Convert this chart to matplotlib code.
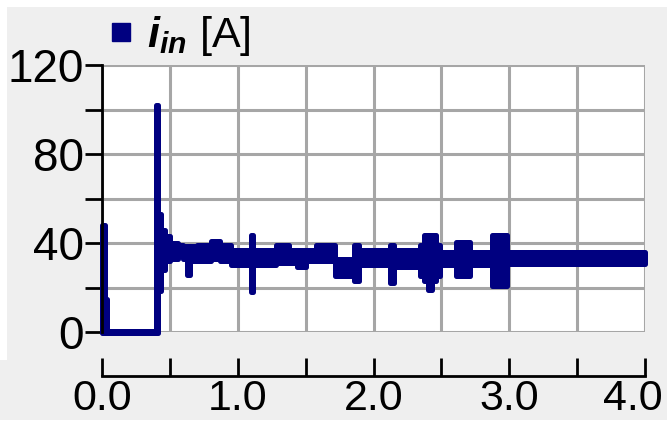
import matplotlib
matplotlib.use("Agg")
import matplotlib.pyplot as plt
from matplotlib.lines import Line2D
from matplotlib.patches import Rectangle
from matplotlib.ticker import MultipleLocator, FixedLocator, FixedFormatter
import matplotlib.transforms as mtransforms

plt.rcParams['font.family'] = ['Liberation Sans', 'DejaVu Sans']
plt.rcParams['mathtext.fontset'] = 'custom'
plt.rcParams['mathtext.bf'] = 'Liberation Sans:bold:italic'
plt.rcParams['mathtext.rm'] = 'Liberation Sans'

# ---- data: envelope (segment start time in s, low/high current in A) ----
t_pts = [0.000, 0.020, 0.040, 0.400, 0.412, 0.435, 0.465, 0.500, 0.560, 0.600,
         0.625, 0.645, 0.700, 0.800, 0.870, 0.950, 1.095, 1.115, 1.280, 1.380,
         1.440, 1.500, 1.580, 1.720, 1.860, 1.890, 2.120, 2.150, 2.340, 2.370,
         2.400, 2.430, 2.460, 2.490, 2.610, 2.710, 2.870, 2.980, 4.000]
i_low = [-0.6, -0.6, -0.6, -0.6, 18.5, 28, 32, 33, 34, 33,
         25.5, 32, 32, 33, 32, 30, 18, 30, 31, 31,
         29, 32, 32, 25, 23, 30, 22, 29, 25, 23,
         19, 23, 25, 30, 25, 30, 20.5, 30.5, 30.5]
i_high = [48, 15, 0.6, 102, 53, 46, 43, 40, 39, 38.5,
          38.5, 38.5, 39, 41, 39, 37, 43.5, 37, 39, 37,
          37, 37, 39, 33, 39, 37, 39, 37, 39, 43.5,
          43.5, 43.5, 39, 36, 40.5, 36, 43.5, 36, 36]

x_major = [0.0, 1.0, 2.0, 3.0, 4.0]
x_labels = ["0.0", "1.0", "2.0", "3.0", "4.0"]
y_major = [0, 40, 80, 120]
legend_label = r"$\mathbf{i}_{\mathbf{in}}$ [A]"

navy = "#000080"
grid_c = "#a6a6a6"
bg = "#efefef"

W, H = 667, 422
fig = plt.figure(figsize=(W / 100, H / 100), dpi=100, facecolor="white")
fig.patches.append(Rectangle((7 / W, (H - 360) / H), 1 - 7 / W, (360 - 7) / H,
                             transform=fig.transFigure, facecolor=bg, edgecolor="none", zorder=-10))
fig.patches.append(Rectangle((0, (H - 420) / H), 1, 60 / H,
                             transform=fig.transFigure, facecolor=bg, edgecolor="none", zorder=-10))

left, right, top, bottom = 102, 645, 65, 332
ax = fig.add_axes([left / W, (H - bottom) / H, (right - left) / W, (bottom - top) / H])
ax.set_facecolor("white")

ax.fill_between(t_pts, i_low, i_high, step="post", facecolor=navy, edgecolor=navy,
                linewidth=3.6, joinstyle="round", capstyle="round", zorder=3, clip_on=False)

ax.set_xlim(0, 4.0)
ax.set_ylim(0, 120)

ax.xaxis.set_major_locator(FixedLocator(x_major))
ax.xaxis.set_major_formatter(FixedFormatter(x_labels))
ax.xaxis.set_minor_locator(MultipleLocator(0.5))
ax.yaxis.set_major_locator(FixedLocator(y_major))
ax.yaxis.set_minor_locator(MultipleLocator(20))
ax.grid(True, which="both", color=grid_c, linewidth=2.2, zorder=1)
ax.set_axisbelow(True)

for s in ["top", "right"]:
    ax.spines[s].set_visible(False)
ax.spines["left"].set_linewidth(2)
ax.spines["left"].set_color("black")
ax.spines["left"].set_zorder(5)
ax.spines["bottom"].set_position(("outward", 32))
ax.spines["bottom"].set_linewidth(2)
ax.spines["bottom"].set_bounds(0, 4.0)

ax.tick_params(axis="y", which="both", direction="out", length=12, width=2,
               labelsize=33, pad=1)
ax.tick_params(axis="y", which="minor", labelleft=False)
ax.tick_params(axis="x", which="both", direction="in", length=13, width=2,
               labelsize=31, pad=1.5)

lab = ax.xaxis.get_major_ticks()[-1].label1
lab.set_transform(lab.get_transform() + mtransforms.ScaledTranslation(-12 / 100, 0, fig.dpi_scale_trans))

handle = Line2D([], [], marker="s", linestyle="", color=navy, markersize=13)
fig.legend([handle], [legend_label], loc="upper left",
           bbox_to_anchor=(91 / W, 1 - 5 / H), frameon=False, fontsize=31,
           handletextpad=0.1, handlelength=1.0, borderpad=0.2, borderaxespad=0)

fig.savefig("out.png", dpi=100, facecolor=fig.get_facecolor())
